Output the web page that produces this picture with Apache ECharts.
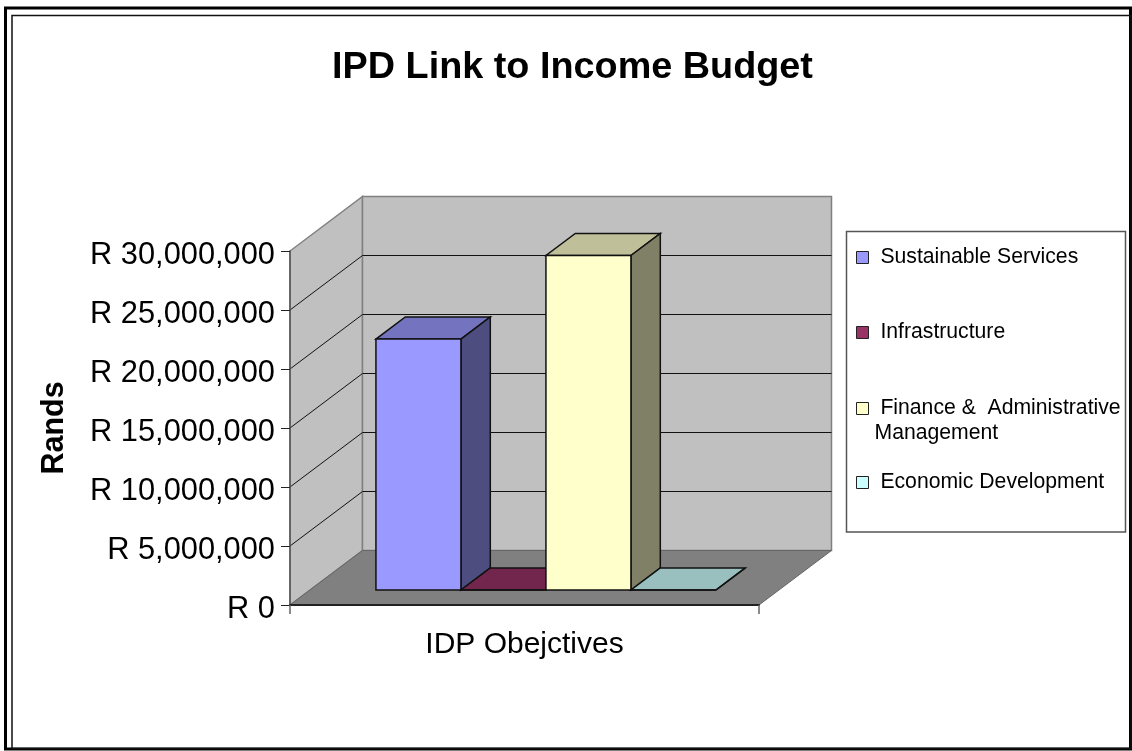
<!DOCTYPE html>
<html>
<head>
<meta charset="utf-8">
<title>IPD Link to Income Budget</title>
<script src="https://cdn.jsdelivr.net/npm/echarts@6/dist/echarts.min.js"></script>
<style>
  html, body { margin: 0; padding: 0; background: #fff; }
  #chart { width: 1132px; height: 751px; }
</style>
</head>
<body>
<div id="chart"></div>
<script>
// data
const categories = ['IDP Obejctives'];
const seriesNames = ['Sustainable Services', 'Infrastructure', 'Finance &  Administrative Management', 'Economic Development'];
const seriesValues = [21270000, 0, 28350000, 0];
const seriesColors = ['#9999ff', '#993366', '#ffffcc', '#ccffff'];
const topColors = ['#7373bf', '#73264d', '#bfbf99', '#99bfbf'];
const sideColors = ['#4d4d80', '#4d1a33', '#808066', '#668080'];
const tickValues = [0, 5000000, 10000000, 15000000, 20000000, 25000000, 30000000];

const FONT = '"Liberation Sans", Arial, sans-serif';
// 3d look: how far the back wall sits from the front plane
const DEPTH_X = 72.5, DEPTH_Y = 54.5;
const BAR_NEAR = 0.275, BAR_FAR = 0.68;
const BAR_GAP = 66 / 469, BAR_W = 85 / 469;
const legendTops = [245, 320, 371, 470];

function poly(points, fill, stroke, lineWidth) {
  return {
    type: 'polygon',
    shape: { points: points },
    style: { fill: fill, stroke: stroke, lineWidth: lineWidth }
  };
}

function line(x1, y1, x2, y2, color) {
  return {
    type: 'line',
    shape: { x1: x1, y1: y1, x2: x2, y2: y2 },
    style: { stroke: color, lineWidth: 1 }
  };
}

// side wall, back wall, floor and the gridlines on them
function renderWalls(params, api) {
  const w = api.size([1, 0])[0];
  const base = api.coord([0, tickValues[0]]);
  const top = api.coord([0, tickValues[tickValues.length - 1]]);
  const x0 = base[0] - w / 2, x1 = base[0] + w / 2;
  const y0 = base[1], y1 = top[1];
  const children = [
    poly([[x0, y0], [x0 + DEPTH_X, y0 - DEPTH_Y], [x0 + DEPTH_X, y1 - DEPTH_Y], [x0, y1]], '#c0c0c0', '#808080', 1.5),
    poly([[x0 + DEPTH_X, y0 - DEPTH_Y], [x1 + DEPTH_X, y0 - DEPTH_Y], [x1 + DEPTH_X, y1 - DEPTH_Y], [x0 + DEPTH_X, y1 - DEPTH_Y]], '#c0c0c0', '#808080', 1.5)
  ];
  tickValues.slice(1, -1).forEach(function (v) {
    const y = api.coord([0, v])[1];
    children.push(line(x0, y, x0 + DEPTH_X, y - DEPTH_Y, '#111'));
    children.push(line(x0 + DEPTH_X, y - DEPTH_Y, x1 + DEPTH_X, y - DEPTH_Y, '#111'));
  });
  children.push(poly([[x0, y0], [x1, y0], [x1 + DEPTH_X, y0 - DEPTH_Y], [x0 + DEPTH_X, y0 - DEPTH_Y]], '#808080', '#666', 1));
  return { type: 'group', children: children };
}

function renderBar(index) {
  return function (params, api) {
    const w = api.size([1, 0])[0];
    const base = api.coord([0, tickValues[0]]);
    const top = api.coord([api.value(0), api.value(1)]);
    const left = base[0] - w / 2 + w * (BAR_GAP + BAR_W * index) + DEPTH_X * BAR_NEAR;
    const right = left + w * BAR_W;
    const bottom = base[1] - DEPTH_Y * BAR_NEAR;
    const y = top[1] - DEPTH_Y * BAR_NEAR;
    const dx = DEPTH_X * (BAR_FAR - BAR_NEAR);
    const dy = DEPTH_Y * (BAR_FAR - BAR_NEAR);
    const stroke = '#111';
    return {
      type: 'group',
      children: [
        poly([[left, y], [right, y], [right + dx, y - dy], [left + dx, y - dy]], topColors[index], stroke, 1.5),
        poly([[right, y], [right + dx, y - dy], [right + dx, bottom - dy], [right, bottom]], sideColors[index], stroke, 1.5),
        poly([[left, y], [right, y], [right, bottom], [left, bottom]], api.visual('color'), stroke, 1.5)
      ]
    };
  };
}

const series = [{
  type: 'custom',
  name: 'walls',
  silent: true,
  z: 1,
  renderItem: renderWalls,
  encode: { x: 0, y: 1 },
  data: [[0, 0]]
}];
seriesNames.forEach(function (name, i) {
  series.push({
    type: 'custom',
    name: name,
    z: 3 + i,
    renderItem: renderBar(i),
    itemStyle: { color: seriesColors[i] },
    encode: { x: 0, y: 1 },
    data: [[0, seriesValues[i]]]
  });
});

function legendText(name) {
  if (name.indexOf('Management') > -1) {
    return '\n Finance &  Administrative\nManagement';
  }
  return ' ' + name;
}

const chart = echarts.init(document.getElementById('chart'));
chart.setOption({
  animation: false,
  backgroundColor: '#fff',
  title: {
    text: 'IPD Link to Income Budget',
    left: 572.5,
    top: 49,
    padding: 0,
    textAlign: 'center',
    textStyle: { fontFamily: FONT, fontSize: 37.8, fontWeight: 'bold', color: '#000' }
  },
  grid: { left: 290, right: 373, top: 251, bottom: 146 },
  xAxis: {
    type: 'category',
    data: categories,
    z: 5,
    axisLine: { lineStyle: { color: '#222', width: 2 } },
    axisTick: { show: true, interval: 0, length: 9, lineStyle: { color: '#666', width: 1.5 } },
    axisLabel: { margin: 25, fontFamily: FONT, fontSize: 30, color: '#000' }
  },
  yAxis: {
    type: 'value',
    min: 0,
    max: 30000000,
    interval: 5000000,
    z: 5,
    name: 'Rands',
    nameLocation: 'middle',
    nameGap: 220,
    nameRotate: 90,
    nameTextStyle: { fontFamily: FONT, fontSize: 30.5, fontWeight: 'bold', color: '#000' },
    axisLine: { show: true, lineStyle: { color: '#555', width: 1.5 } },
    axisTick: { show: true, length: 9, lineStyle: { color: '#222' } },
    splitLine: { show: false },
    axisLabel: {
      margin: 15,
      fontFamily: FONT,
      fontSize: 30.8,
      color: '#000',
      verticalAlign: 'top',
      lineHeight: 9,
      formatter: function (v) { return 'R ' + v.toLocaleString('en-US'); }
    }
  },
  legend: seriesNames.map(function (name, i) {
    return {
      data: [name],
      left: 856,
      top: legendTops[i],
      padding: 0,
      itemWidth: 12,
      itemHeight: 12,
      icon: 'rect',
      itemStyle: { borderColor: '#222', borderWidth: 1 },
      selectedMode: false,
      formatter: legendText,
      textStyle: { fontFamily: FONT, fontSize: 21.2, lineHeight: 25, color: '#000', padding: [0, 0, 0, 1] }
    };
  }),
  graphic: [
    { type: 'rect', z: 0, shape: { x: 5.5, y: 8, width: 1125, height: 741 }, style: { fill: 'none', stroke: '#000', lineWidth: 3 } },
    { type: 'rect', z: 0, shape: { x: 12, y: 15.5, width: 1119, height: 733 }, style: { fill: 'none', stroke: '#111', lineWidth: 1.5 } },
    { type: 'rect', z: 0, shape: { x: 846.5, y: 231.5, width: 279, height: 300.5 }, style: { fill: '#fff', stroke: '#555', lineWidth: 1.5 } }
  ],
  series: series
});
</script>
</body>
</html>
